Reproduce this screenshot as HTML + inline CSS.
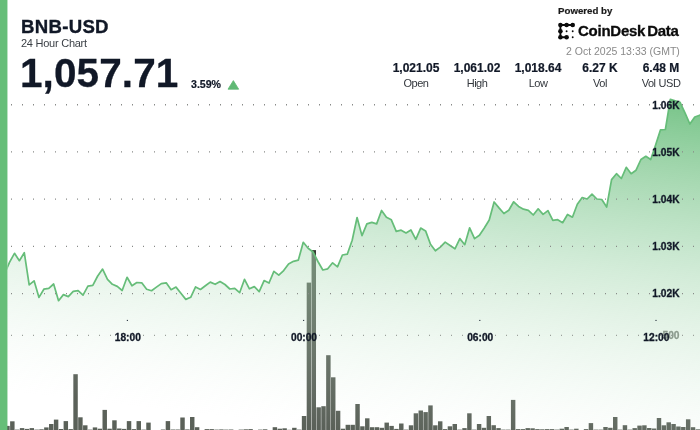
<!DOCTYPE html>
<html lang="en">
<head>
<meta charset="utf-8">
<title>BNB-USD 24 Hour Chart</title>
<style>
html,body{margin:0;padding:0;background:#fff;}
body{width:700px;height:430px;overflow:hidden;position:relative;font-family:"Liberation Sans",Arial,sans-serif;color:#111827;}
#chart{position:absolute;left:0;top:0;width:700px;height:430px;will-change:transform;}
.abs{position:absolute;white-space:nowrap;line-height:1;will-change:transform;}
#pair{left:20.9px;top:18.0px;font-size:18.6px;font-weight:700;letter-spacing:0.3px;color:#111827;-webkit-text-stroke:0.35px #111827;}
#sub{left:20.5px;top:38.2px;font-size:11px;letter-spacing:-0.25px;color:#3a3f45;}
#price{left:20.4px;top:53.2px;font-size:40.5px;font-weight:700;letter-spacing:0.1px;color:#111827;-webkit-text-stroke:0.3px #111827;}
#pct{left:190.8px;top:79.2px;font-size:10.6px;font-weight:700;color:#111827;-webkit-text-stroke:0.2px #111827;}
#powered{left:558.4px;top:6.2px;font-size:9.7px;font-weight:700;color:#1a1a1a;-webkit-text-stroke:0.2px #1a1a1a;}
#brand{left:577.8px;top:23.4px;font-size:15px;font-weight:700;letter-spacing:-0.25px;color:#0b0b0b;-webkit-text-stroke:0.3px #0b0b0b;}
#brand span{margin-left:2.0px;}
#date{right:20.5px;top:45.6px;font-size:10.5px;color:#8a8a8a;}
.stat{position:absolute;top:0;width:80px;height:95px;text-align:center;white-space:nowrap;will-change:transform;}
.stat b{position:absolute;left:0;right:0;top:62.1px;font-size:12px;line-height:1;font-weight:700;color:#111827;-webkit-text-stroke:0.2px #111827;}
.stat i{position:absolute;left:0;right:0;top:78.0px;font-size:11px;line-height:1;font-style:normal;letter-spacing:-0.5px;word-spacing:0.6px;color:#33373d;}
svg text{font-family:"Liberation Sans",Arial,sans-serif;font-weight:700;font-size:10.2px;fill:#111827;stroke:#111827;stroke-width:0.3px;}
</style>
</head>
<body>
<svg id="chart" width="700" height="430" viewBox="0 0 700 430">
<defs>
<linearGradient id="ag" gradientUnits="userSpaceOnUse" x1="697" y1="92" x2="654.10" y2="465.07">
<stop offset="0.0000" stop-color="rgb(92,184,112)" stop-opacity="0.870"/>
<stop offset="0.0625" stop-color="rgb(102,188,121)" stop-opacity="0.828"/>
<stop offset="0.1250" stop-color="rgb(112,193,130)" stop-opacity="0.785"/>
<stop offset="0.1875" stop-color="rgb(123,197,139)" stop-opacity="0.742"/>
<stop offset="0.2500" stop-color="rgb(133,202,148)" stop-opacity="0.700"/>
<stop offset="0.3125" stop-color="rgb(143,206,157)" stop-opacity="0.657"/>
<stop offset="0.3750" stop-color="rgb(153,211,166)" stop-opacity="0.615"/>
<stop offset="0.4375" stop-color="rgb(163,215,175)" stop-opacity="0.573"/>
<stop offset="0.5000" stop-color="rgb(174,220,184)" stop-opacity="0.530"/>
<stop offset="0.5625" stop-color="rgb(184,224,192)" stop-opacity="0.488"/>
<stop offset="0.6250" stop-color="rgb(194,228,201)" stop-opacity="0.445"/>
<stop offset="0.6875" stop-color="rgb(204,233,210)" stop-opacity="0.403"/>
<stop offset="0.7500" stop-color="rgb(214,237,219)" stop-opacity="0.360"/>
<stop offset="0.8125" stop-color="rgb(224,242,228)" stop-opacity="0.318"/>
<stop offset="0.8750" stop-color="rgb(235,246,237)" stop-opacity="0.275"/>
<stop offset="0.9375" stop-color="rgb(245,251,246)" stop-opacity="0.233"/>
<stop offset="1.0000" stop-color="rgb(255,255,255)" stop-opacity="0.190"/>
</linearGradient>
<linearGradient id="bg" gradientUnits="userSpaceOnUse" x1="0" y1="360" x2="0" y2="430">
<stop offset="0" stop-color="#343c32"/>
<stop offset="1" stop-color="#343c32"/>
</linearGradient>
<clipPath id="cp"><rect x="7.4" y="0" width="692.6" height="430"/></clipPath>
</defs>
<g fill="url(#bg)">
<rect x="5.26" y="425.90" width="4.45" height="4.10"/>
<rect x="10.12" y="421.30" width="4.45" height="8.70"/>
<rect x="14.98" y="429.60" width="4.45" height="0.40"/>
<rect x="19.84" y="428.10" width="4.45" height="1.90"/>
<rect x="24.71" y="428.90" width="4.45" height="1.10"/>
<rect x="29.57" y="428.10" width="4.45" height="1.90"/>
<rect x="34.43" y="429.60" width="4.45" height="0.40"/>
<rect x="39.29" y="429.30" width="4.45" height="0.70"/>
<rect x="44.15" y="427.40" width="4.45" height="2.60"/>
<rect x="49.02" y="424.00" width="4.45" height="6.00"/>
<rect x="53.88" y="419.60" width="4.45" height="10.40"/>
<rect x="58.74" y="429.00" width="4.45" height="1.00"/>
<rect x="63.60" y="421.10" width="4.45" height="8.90"/>
<rect x="68.46" y="429.10" width="4.45" height="0.90"/>
<rect x="73.33" y="374.20" width="4.45" height="55.80"/>
<rect x="78.19" y="417.30" width="4.45" height="12.70"/>
<rect x="83.05" y="425.30" width="4.45" height="4.70"/>
<rect x="87.91" y="429.60" width="4.45" height="0.40"/>
<rect x="92.77" y="427.40" width="4.45" height="2.60"/>
<rect x="97.64" y="428.70" width="4.45" height="1.30"/>
<rect x="102.50" y="409.90" width="4.45" height="20.10"/>
<rect x="107.36" y="428.70" width="4.45" height="1.30"/>
<rect x="112.22" y="420.30" width="4.45" height="9.70"/>
<rect x="117.08" y="428.50" width="4.45" height="1.50"/>
<rect x="121.95" y="428.90" width="4.45" height="1.10"/>
<rect x="126.81" y="421.10" width="4.45" height="8.90"/>
<rect x="131.67" y="429.10" width="4.45" height="0.90"/>
<rect x="136.53" y="421.10" width="4.45" height="8.90"/>
<rect x="141.39" y="429.60" width="4.45" height="0.40"/>
<rect x="146.26" y="422.60" width="4.45" height="7.40"/>
<rect x="160.84" y="429.50" width="4.45" height="0.50"/>
<rect x="165.70" y="421.10" width="4.45" height="8.90"/>
<rect x="170.57" y="429.50" width="4.45" height="0.50"/>
<rect x="175.43" y="429.50" width="4.45" height="0.50"/>
<rect x="180.29" y="417.50" width="4.45" height="12.50"/>
<rect x="185.15" y="429.40" width="4.45" height="0.60"/>
<rect x="190.01" y="417.00" width="4.45" height="13.00"/>
<rect x="194.88" y="427.20" width="4.45" height="2.80"/>
<rect x="204.60" y="429.10" width="4.45" height="0.90"/>
<rect x="209.46" y="429.10" width="4.45" height="0.90"/>
<rect x="214.32" y="429.60" width="4.45" height="0.40"/>
<rect x="219.19" y="429.40" width="4.45" height="0.60"/>
<rect x="224.05" y="429.60" width="4.45" height="0.40"/>
<rect x="228.91" y="429.50" width="4.45" height="0.50"/>
<rect x="238.63" y="429.60" width="4.45" height="0.40"/>
<rect x="243.50" y="429.30" width="4.45" height="0.70"/>
<rect x="248.36" y="429.10" width="4.45" height="0.90"/>
<rect x="258.08" y="429.60" width="4.45" height="0.40"/>
<rect x="262.94" y="429.30" width="4.45" height="0.70"/>
<rect x="272.67" y="427.20" width="4.45" height="2.80"/>
<rect x="277.53" y="428.70" width="4.45" height="1.30"/>
<rect x="282.39" y="428.30" width="4.45" height="1.70"/>
<rect x="287.25" y="429.80" width="4.45" height="0.20"/>
<rect x="292.12" y="427.80" width="4.45" height="2.20"/>
<rect x="296.98" y="429.60" width="4.45" height="0.40"/>
<rect x="301.84" y="416.00" width="4.45" height="14.00"/>
<rect x="306.70" y="282.60" width="4.45" height="147.40"/>
<rect x="311.56" y="250.10" width="4.45" height="179.90"/>
<rect x="316.43" y="407.30" width="4.45" height="22.70"/>
<rect x="321.29" y="406.20" width="4.45" height="23.80"/>
<rect x="326.15" y="355.20" width="4.45" height="74.80"/>
<rect x="331.01" y="377.30" width="4.45" height="52.70"/>
<rect x="335.87" y="410.80" width="4.45" height="19.20"/>
<rect x="340.74" y="428.70" width="4.45" height="1.30"/>
<rect x="345.60" y="424.80" width="4.45" height="5.20"/>
<rect x="350.46" y="424.80" width="4.45" height="5.20"/>
<rect x="355.32" y="404.00" width="4.45" height="26.00"/>
<rect x="360.18" y="426.30" width="4.45" height="3.70"/>
<rect x="365.05" y="418.30" width="4.45" height="11.70"/>
<rect x="369.91" y="427.20" width="4.45" height="2.80"/>
<rect x="374.77" y="427.20" width="4.45" height="2.80"/>
<rect x="379.63" y="427.80" width="4.45" height="2.20"/>
<rect x="384.49" y="422.60" width="4.45" height="7.40"/>
<rect x="389.36" y="425.90" width="4.45" height="4.10"/>
<rect x="394.22" y="428.90" width="4.45" height="1.10"/>
<rect x="399.08" y="423.50" width="4.45" height="6.50"/>
<rect x="403.94" y="429.60" width="4.45" height="0.40"/>
<rect x="408.80" y="425.30" width="4.45" height="4.70"/>
<rect x="413.67" y="413.30" width="4.45" height="16.70"/>
<rect x="418.53" y="410.50" width="4.45" height="19.50"/>
<rect x="423.39" y="412.10" width="4.45" height="17.90"/>
<rect x="428.25" y="405.40" width="4.45" height="24.60"/>
<rect x="433.11" y="425.30" width="4.45" height="4.70"/>
<rect x="437.98" y="421.30" width="4.45" height="8.70"/>
<rect x="442.84" y="429.10" width="4.45" height="0.90"/>
<rect x="447.70" y="426.30" width="4.45" height="3.70"/>
<rect x="452.56" y="424.00" width="4.45" height="6.00"/>
<rect x="457.42" y="429.60" width="4.45" height="0.40"/>
<rect x="462.29" y="428.10" width="4.45" height="1.90"/>
<rect x="467.15" y="413.30" width="4.45" height="16.70"/>
<rect x="472.01" y="429.60" width="4.45" height="0.40"/>
<rect x="476.87" y="424.00" width="4.45" height="6.00"/>
<rect x="481.73" y="427.80" width="4.45" height="2.20"/>
<rect x="486.60" y="416.00" width="4.45" height="14.00"/>
<rect x="491.46" y="425.20" width="4.45" height="4.80"/>
<rect x="496.32" y="428.10" width="4.45" height="1.90"/>
<rect x="501.18" y="429.60" width="4.45" height="0.40"/>
<rect x="506.04" y="429.60" width="4.45" height="0.40"/>
<rect x="510.91" y="399.90" width="4.45" height="30.10"/>
<rect x="515.77" y="429.10" width="4.45" height="0.90"/>
<rect x="520.63" y="429.10" width="4.45" height="0.90"/>
<rect x="525.49" y="428.10" width="4.45" height="1.90"/>
<rect x="530.35" y="428.30" width="4.45" height="1.70"/>
<rect x="535.22" y="429.10" width="4.45" height="0.90"/>
<rect x="540.08" y="429.30" width="4.45" height="0.70"/>
<rect x="544.94" y="429.10" width="4.45" height="0.90"/>
<rect x="549.80" y="429.10" width="4.45" height="0.90"/>
<rect x="554.66" y="429.60" width="4.45" height="0.40"/>
<rect x="559.53" y="428.70" width="4.45" height="1.30"/>
<rect x="564.39" y="427.00" width="4.45" height="3.00"/>
<rect x="569.25" y="429.60" width="4.45" height="0.40"/>
<rect x="574.11" y="428.70" width="4.45" height="1.30"/>
<rect x="583.84" y="429.10" width="4.45" height="0.90"/>
<rect x="588.70" y="423.10" width="4.45" height="6.90"/>
<rect x="593.56" y="429.60" width="4.45" height="0.40"/>
<rect x="598.42" y="429.60" width="4.45" height="0.40"/>
<rect x="603.28" y="427.00" width="4.45" height="3.00"/>
<rect x="608.15" y="427.80" width="4.45" height="2.20"/>
<rect x="613.01" y="417.00" width="4.45" height="13.00"/>
<rect x="617.87" y="429.60" width="4.45" height="0.40"/>
<rect x="622.73" y="425.20" width="4.45" height="4.80"/>
<rect x="627.59" y="429.60" width="4.45" height="0.40"/>
<rect x="632.46" y="428.10" width="4.45" height="1.90"/>
<rect x="637.32" y="425.60" width="4.45" height="4.40"/>
<rect x="642.18" y="425.30" width="4.45" height="4.70"/>
<rect x="647.04" y="428.00" width="4.45" height="2.00"/>
<rect x="651.90" y="428.50" width="4.45" height="1.50"/>
<rect x="656.77" y="418.00" width="4.45" height="12.00"/>
<rect x="661.63" y="425.30" width="4.45" height="4.70"/>
<rect x="666.49" y="422.30" width="4.45" height="7.70"/>
<rect x="671.35" y="424.00" width="4.45" height="6.00"/>
<rect x="676.21" y="426.50" width="4.45" height="3.50"/>
<rect x="681.08" y="427.00" width="4.45" height="3.00"/>
<rect x="685.94" y="419.30" width="4.45" height="10.70"/>
<rect x="690.80" y="427.20" width="4.45" height="2.80"/>
<rect x="695.66" y="429.30" width="4.45" height="0.70"/>
</g>
<g clip-path="url(#cp)">
<path d="M4.71,273.20 L9.61,262.20 L14.50,253.30 L19.39,260.70 L24.29,252.70 L29.18,284.90 L34.08,280.80 L38.97,297.40 L43.86,289.20 L48.76,288.40 L53.65,284.00 L58.55,300.70 L63.44,294.60 L68.33,296.60 L73.23,291.40 L78.12,290.70 L83.02,295.10 L87.91,286.20 L92.80,285.40 L97.70,276.00 L102.59,269.10 L107.49,279.30 L112.38,284.30 L117.27,286.40 L122.17,290.50 L127.06,277.30 L131.96,285.80 L136.85,282.50 L141.74,282.80 L146.64,289.20 L151.53,290.70 L156.43,287.10 L161.32,283.60 L166.21,282.80 L171.11,289.70 L176.00,287.10 L180.90,293.30 L185.79,299.40 L190.68,297.30 L195.58,286.90 L200.47,289.50 L205.37,285.80 L210.26,282.10 L215.15,284.30 L220.05,281.50 L224.94,284.50 L229.84,289.00 L234.73,288.40 L239.62,292.70 L244.52,279.30 L249.41,288.80 L254.31,286.60 L259.20,291.60 L264.09,280.60 L268.99,283.00 L273.88,271.30 L278.78,275.20 L283.67,270.60 L288.56,263.90 L293.46,261.30 L298.35,260.10 L303.25,242.30 L308.14,248.30 L313.03,252.00 L317.93,261.50 L322.82,270.00 L327.72,268.80 L332.61,262.80 L337.50,266.80 L342.40,255.00 L347.29,254.20 L352.19,240.20 L357.08,217.50 L361.97,235.60 L366.87,223.90 L371.76,222.40 L376.66,223.90 L381.55,210.50 L386.44,217.30 L391.34,219.80 L396.23,231.30 L401.13,230.20 L406.02,233.00 L410.91,230.00 L415.81,239.30 L420.70,228.10 L425.60,230.90 L430.49,244.30 L435.38,250.80 L440.28,247.10 L445.17,242.10 L450.07,245.50 L454.96,248.80 L459.85,238.60 L464.75,244.70 L469.64,227.80 L474.54,238.60 L479.43,235.30 L484.32,228.00 L489.22,220.00 L494.11,202.00 L499.01,207.90 L503.90,213.50 L508.79,210.30 L513.69,201.80 L518.58,206.40 L523.48,209.20 L528.37,210.30 L533.26,215.00 L538.16,208.80 L543.05,214.40 L547.95,210.60 L552.84,220.30 L557.73,219.70 L562.63,222.70 L567.52,214.50 L572.42,217.20 L577.31,204.30 L582.20,197.50 L587.10,199.00 L591.99,194.20 L596.89,199.00 L601.78,199.50 L606.67,207.00 L611.57,179.60 L616.46,173.70 L621.36,178.50 L626.25,167.30 L631.14,173.70 L636.04,170.20 L640.93,159.50 L645.83,156.30 L650.72,159.50 L655.61,145.00 L660.51,129.80 L665.40,129.50 L670.30,99.40 L675.19,100.90 L680.08,102.40 L684.98,112.80 L689.87,124.00 L694.77,117.00 L699.66,115.20 L704.55,114.20 L704.55,430 L4.71,430 Z" fill="url(#ag)" stroke="none"/>
<path d="M4.71,273.20 L9.61,262.20 L14.50,253.30 L19.39,260.70 L24.29,252.70 L29.18,284.90 L34.08,280.80 L38.97,297.40 L43.86,289.20 L48.76,288.40 L53.65,284.00 L58.55,300.70 L63.44,294.60 L68.33,296.60 L73.23,291.40 L78.12,290.70 L83.02,295.10 L87.91,286.20 L92.80,285.40 L97.70,276.00 L102.59,269.10 L107.49,279.30 L112.38,284.30 L117.27,286.40 L122.17,290.50 L127.06,277.30 L131.96,285.80 L136.85,282.50 L141.74,282.80 L146.64,289.20 L151.53,290.70 L156.43,287.10 L161.32,283.60 L166.21,282.80 L171.11,289.70 L176.00,287.10 L180.90,293.30 L185.79,299.40 L190.68,297.30 L195.58,286.90 L200.47,289.50 L205.37,285.80 L210.26,282.10 L215.15,284.30 L220.05,281.50 L224.94,284.50 L229.84,289.00 L234.73,288.40 L239.62,292.70 L244.52,279.30 L249.41,288.80 L254.31,286.60 L259.20,291.60 L264.09,280.60 L268.99,283.00 L273.88,271.30 L278.78,275.20 L283.67,270.60 L288.56,263.90 L293.46,261.30 L298.35,260.10 L303.25,242.30 L308.14,248.30 L313.03,252.00 L317.93,261.50 L322.82,270.00 L327.72,268.80 L332.61,262.80 L337.50,266.80 L342.40,255.00 L347.29,254.20 L352.19,240.20 L357.08,217.50 L361.97,235.60 L366.87,223.90 L371.76,222.40 L376.66,223.90 L381.55,210.50 L386.44,217.30 L391.34,219.80 L396.23,231.30 L401.13,230.20 L406.02,233.00 L410.91,230.00 L415.81,239.30 L420.70,228.10 L425.60,230.90 L430.49,244.30 L435.38,250.80 L440.28,247.10 L445.17,242.10 L450.07,245.50 L454.96,248.80 L459.85,238.60 L464.75,244.70 L469.64,227.80 L474.54,238.60 L479.43,235.30 L484.32,228.00 L489.22,220.00 L494.11,202.00 L499.01,207.90 L503.90,213.50 L508.79,210.30 L513.69,201.80 L518.58,206.40 L523.48,209.20 L528.37,210.30 L533.26,215.00 L538.16,208.80 L543.05,214.40 L547.95,210.60 L552.84,220.30 L557.73,219.70 L562.63,222.70 L567.52,214.50 L572.42,217.20 L577.31,204.30 L582.20,197.50 L587.10,199.00 L591.99,194.20 L596.89,199.00 L601.78,199.50 L606.67,207.00 L611.57,179.60 L616.46,173.70 L621.36,178.50 L626.25,167.30 L631.14,173.70 L636.04,170.20 L640.93,159.50 L645.83,156.30 L650.72,159.50 L655.61,145.00 L660.51,129.80 L665.40,129.50 L670.30,99.40 L675.19,100.90 L680.08,102.40 L684.98,112.80 L689.87,124.00 L694.77,117.00 L699.66,115.20 L704.55,114.20" fill="none" stroke="#66bd79" stroke-width="1.72" stroke-linejoin="round" stroke-linecap="round"/>
</g>
<g stroke="#888a88" stroke-width="1.3" stroke-dasharray="1 10" fill="none">
<line x1="11" x2="700" y1="104.75" y2="104.75"/>
<line x1="11" x2="700" y1="151.95" y2="151.95"/>
<line x1="11" x2="700" y1="199.15" y2="199.15"/>
<line x1="11" x2="700" y1="246.35" y2="246.35"/>
<line x1="11" x2="700" y1="293.55" y2="293.55"/>
</g>
<line x1="11" x2="700" y1="335.4" y2="335.4" stroke="#9aa09a" stroke-width="1.25" stroke-dasharray="1 10"/>
<rect x="0" y="0" width="7.45" height="430" fill="#66be78"/>
<g fill="#1f2937">
<rect x="126.80" y="319.9" width="1.2" height="1"/>
<rect x="303.00" y="319.9" width="1.2" height="1"/>
<rect x="479.20" y="319.9" width="1.2" height="1"/>
<rect x="655.40" y="319.9" width="1.2" height="1"/>
</g>
<text x="679.5" y="338.6" text-anchor="end" style="fill:#8b9a8d;stroke:#8b9a8d">500</text>
<g text-anchor="end">
<text x="679.5" y="108.60">1.06K</text>
<text x="679.5" y="155.80">1.05K</text>
<text x="679.5" y="203.00">1.04K</text>
<text x="679.5" y="250.20">1.03K</text>
<text x="679.5" y="297.40">1.02K</text>
</g>
<g text-anchor="middle">
<text x="127.8" y="340.6">18:00</text>
<text x="304.0" y="340.6">00:00</text>
<text x="480.2" y="340.6">06:00</text>
<text x="656.4" y="340.6">12:00</text>
</g>
<path d="M233.35,80.6 L238.7,89.2 L228.0,89.2 Z" fill="#5fb974" stroke="#5fb974" stroke-width="0.8" stroke-linejoin="round"/>
<g id="logo" fill="#0b0b0b" stroke="#0b0b0b" stroke-width="1.9" stroke-linecap="round" stroke-linejoin="round">
<path d="M572.7,25 L560.4,25 L560.4,37.3 L566.6,37.3" fill="none"/>
<g stroke="none">
<circle cx="560.4" cy="25" r="2.3"/><circle cx="566.6" cy="25" r="2.3"/><circle cx="572.7" cy="25" r="2.3"/>
<circle cx="560.4" cy="31.2" r="2.3"/><circle cx="560.4" cy="37.3" r="2.3"/><circle cx="566.6" cy="37.3" r="2.3"/>
<circle cx="566.6" cy="31.2" r="0.95"/><circle cx="572.7" cy="31.2" r="0.95"/><circle cx="572.7" cy="37.3" r="0.95"/>
</g>
</g>
</svg>
<div class="abs" id="pair">BNB-USD</div>
<div class="abs" id="sub">24 Hour Chart</div>
<div class="abs" id="price">1,057.71</div>
<div class="abs" id="pct">3.59%</div>
<div class="abs" id="powered">Powered by</div>
<div class="abs" id="brand">CoinDesk<span>Data</span></div>
<div class="abs" id="date">2 Oct 2025 13:33 (GMT)</div>
<div class="stat" style="left:376.1px"><b>1,021.05</b><i>Open</i></div>
<div class="stat" style="left:437.3px"><b>1,061.02</b><i>High</i></div>
<div class="stat" style="left:498px"><b>1,018.64</b><i>Low</i></div>
<div class="stat" style="left:559.6px"><b>6.27 K</b><i>Vol</i></div>
<div class="stat" style="left:620.6px"><b>6.48 M</b><i>Vol USD</i></div>
</body>
</html>
